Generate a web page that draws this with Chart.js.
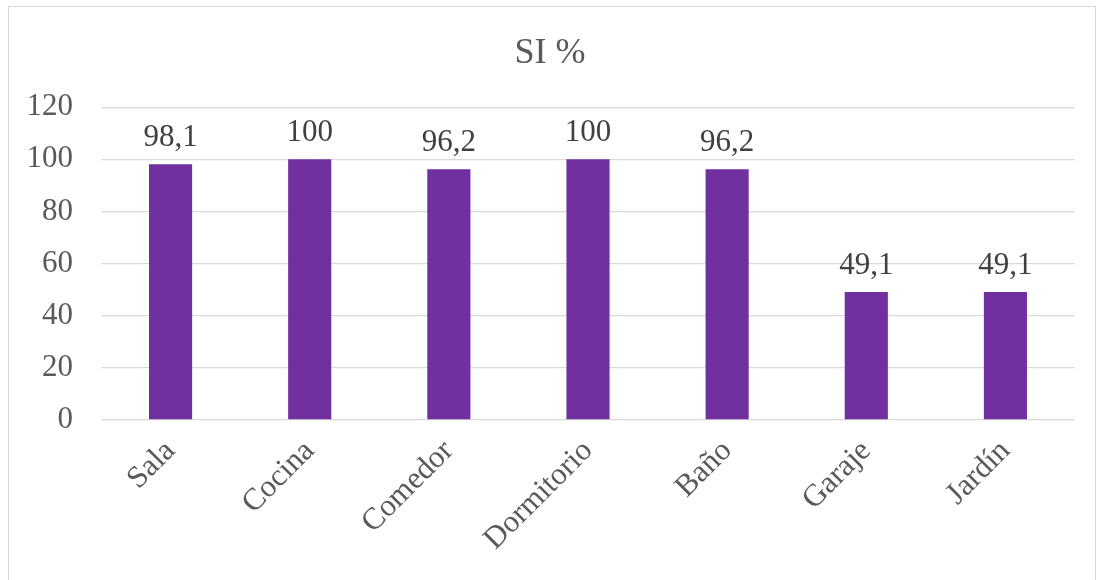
<!DOCTYPE html>
<html>
<head>
<meta charset="utf-8">
<script src="https://cdn.jsdelivr.net/npm/chart.js@4/dist/chart.umd.min.js"></script>
<style>
    html, body { margin: 0; padding: 0; background: #ffffff; }
    #frame {
        position: absolute; left: 8px; top: 6px; width: 1088px; height: 580px;
        border: 1px solid #d9d9d9; box-sizing: border-box;
    }
    #wrap { position: absolute; left: 0; top: 0; width: 1100px; height: 580px; }
</style>
</head>
<body>
<div id="frame"></div>
<div id="wrap"><canvas id="chart"></canvas></div>
<script>
// SI % por ambiente
var categories = ['Sala', 'Cocina', 'Comedor', 'Dormitorio', 'Baño', 'Garaje', 'Jardín'];
var siValues = [98.1, 100, 96.2, 100, 96.2, 49.1, 49.1];
var yTicks = [0, 20, 40, 60, 80, 100, 120];

var serif = '"Liberation Serif", "Times New Roman", serif';

// value labels above each bar, decimal comma like the original
var barLabels = {
    id: 'barLabels',
    afterDatasetsDraw: function (chart) {
        var ctx = chart.ctx;
        var meta = chart.getDatasetMeta(0);
        ctx.save();
        ctx.fillStyle = '#404040';
        ctx.font = '31px ' + serif;
        ctx.textAlign = 'center';
        ctx.textBaseline = 'bottom';
        meta.data.forEach(function (bar, i) {
            var txt = String(siValues[i]).replace('.', ',');
            ctx.fillText(txt, bar.x, bar.y - 11);
        });
        ctx.restore();
    }
};

new Chart(document.getElementById('chart').getContext('2d'), {
    type: 'bar',
    data: {
        labels: categories,
        datasets: [{
            label: 'SI %',
            data: siValues,
            backgroundColor: '#7030a0',
            borderWidth: 0,
            barPercentage: 0.31,
            categoryPercentage: 1,
        }],
    },
    plugins: [barLabels],
    options: {
        responsive: true,
        maintainAspectRatio: false,
        animation: false,
        layout: { padding: { left: 25, right: 25, top: 32, bottom: 0 } },
        plugins: {
            legend: { display: false },
            tooltip: { enabled: false },
            title: {
                display: true,
                text: 'SI %',
                color: '#595959',
                font: { size: 36, family: serif, weight: 'normal' },
                padding: { top: 0, bottom: 32 },
            },
        },
        scales: {
            x: {
                grid: { display: false, drawTicks: false },
                border: { display: false },
                ticks: {
                    color: '#595959',
                    font: { size: 31, family: serif },
                    minRotation: 45,
                    maxRotation: 45,
                    padding: 13,
                },
                afterFit: function (s) { s.height = 160; },
            },
            y: {
                min: 0,
                max: 120,
                afterBuildTicks: function (s) {
                    s.ticks = yTicks.map(function (v) { return { value: v }; });
                },
                grid: { color: '#d9d9d9', lineWidth: 1.3, drawTicks: false },
                border: { display: false },
                ticks: {
                    color: '#595959',
                    font: { size: 31, family: serif },
                    padding: 28,
                },
                afterFit: function (s) { s.width = 76; },
            },
        },
    },
});
</script>
</body>
</html>
